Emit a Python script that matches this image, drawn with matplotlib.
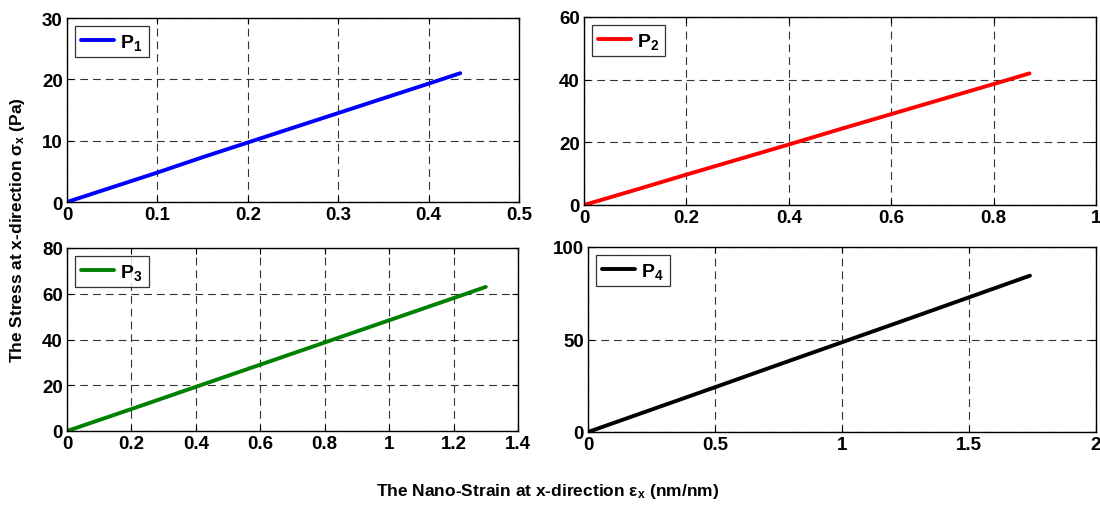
import numpy as np
import matplotlib
matplotlib.use('Agg')
import matplotlib.pyplot as plt

# data
p1_x = [0, 0.05, 0.1, 0.15, 0.2, 0.25, 0.3, 0.35, 0.4, 0.435]
p1_y = [0, 2.4, 4.8, 7.3, 9.7, 12.1, 14.5, 16.9, 19.3, 21.0]
p2_x = [0, 0.1, 0.2, 0.3, 0.4, 0.5, 0.6, 0.7, 0.8, 0.87]
p2_y = [0, 4.8, 9.7, 14.5, 19.3, 24.2, 29.0, 33.8, 38.6, 42.0]
p3_x = [0, 0.1, 0.2, 0.4, 0.6, 0.8, 1.0, 1.2, 1.3]
p3_y = [0, 4.8, 9.6, 19.3, 29.0, 38.7, 48.4, 58.1, 63.0]
p4_x = [0, 0.25, 0.5, 0.75, 1.0, 1.25, 1.5, 1.74]
p4_y = [0, 12.1, 24.2, 36.4, 48.5, 60.6, 72.8, 84.5]

panels = [
    (p1_x, p1_y, '#0000ff', 'P$_1$', (0, 0.5), np.arange(0, 0.51, 0.1), (0, 30), [0, 10, 20, 30]),
    (p2_x, p2_y, '#ff0000', 'P$_2$', (0, 1), np.arange(0, 1.01, 0.2), (0, 60), [0, 20, 40, 60]),
    (p3_x, p3_y, '#008000', 'P$_3$', (0, 1.4), np.arange(0, 1.41, 0.2), (0, 80), [0, 20, 40, 60, 80]),
    (p4_x, p4_y, '#000000', 'P$_4$', (0, 2), [0, 0.5, 1, 1.5, 2], (0, 100), [0, 50, 100]),
]

plt.rcParams['font.family'] = ['Liberation Sans', 'DejaVu Sans']
plt.rcParams['font.weight'] = 'bold'
plt.rcParams['mathtext.fontset'] = 'custom'
plt.rcParams['mathtext.rm'] = 'Liberation Sans:bold'
plt.rcParams['mathtext.it'] = 'Liberation Sans:bold'
plt.rcParams['mathtext.bf'] = 'Liberation Sans:bold'
plt.rcParams['mathtext.default'] = 'rm'

W, H = 1100, 506
fig = plt.figure(figsize=(W / 100, H / 100), dpi=100)

# axes boxes in pixels: left, top, right, bottom
boxes = [(67, 19, 519, 203), (584, 18, 1096, 206),
         (67, 249, 518, 432), (588, 248, 1096, 433)]


def fmt(v):
    s = ('%g' % round(v, 2))
    return s


for (x, y, c, lab, xl, xt, yl, yt), (l, t, r, b) in zip(panels, boxes):
    ax = fig.add_axes([l / W, 1 - b / H, (r - l) / W, (b - t) / H])
    ax.plot(x, y, color=c, lw=2.8, label=lab, solid_capstyle='round')
    ax.set_xlim(*xl)
    ax.set_ylim(*yl)
    ax.set_xticks(xt)
    ax.set_xticklabels([fmt(v) for v in xt])
    ax.set_yticks(yt)
    ax.grid(True, color='#333333', linestyle=(0, (7, 4.5)), linewidth=0.8)
    ax.tick_params(direction='in', top=True, right=True, labelsize=13.5,
                   length=4, width=0.8, pad=3)
    for sp in ax.spines.values():
        sp.set_linewidth(1.0)
    leg = ax.legend(loc='upper left', fontsize=14, frameon=True, fancybox=False,
                    handlelength=1.7, borderpad=0.3, handletextpad=0.35,
                    borderaxespad=0.4)
    leg.get_frame().set_edgecolor('black')
    leg.get_frame().set_linewidth(0.9)

fig.text(18 / W, 1 - 230 / H, r'The Stress at x-direction $\sigma_x$ (Pa)',
         rotation=90, ha='center', va='center', fontsize=12.5, fontweight='bold')
fig.text(548 / W, 1 - 492 / H, r'The Nano-Strain at x-direction $\epsilon_x$ (nm/nm)',
         ha='center', va='center', fontsize=12.5, fontweight='bold')

fig.savefig('out.png', dpi=100)
